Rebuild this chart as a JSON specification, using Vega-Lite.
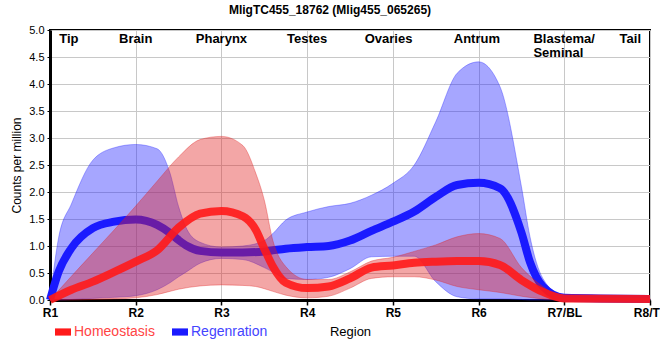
{
  "$schema": "https://vega.github.io/schema/vega-lite/v6.json",
  "width": 600,
  "height": 270,
  "autosize": "none",
  "padding": {"left": 50, "top": 30, "right": 10, "bottom": 60},
  "background": "white",
  "title": {"text": "MligTC455_18762 (Mlig455_065265)", "font": "Liberation Sans", "fontSize": 12, "fontWeight": "bold", "color": "black", "offset": 7, "dx": -20},
  "config": {
    "view": {"stroke": "black", "strokeWidth": 2},
    "font": "Liberation Sans",
    "axisX": {"title": "Region", "titleFont": "Liberation Sans", "titleFontSize": 13, "titleFontWeight": "normal", "titleColor": "black", "titlePadding": 7,
      "labelFont": "Liberation Sans", "labelFontSize": 12, "labelFontWeight": "bold", "labelColor": "black", "labelPadding": 2, "labelFlush": false, "labelOverlap": false,
      "domainColor": "black", "domainWidth": 3, "tickColor": "black", "tickSize": 5, "tickWidth": 1.5,
      "grid": true, "gridColor": "#c8c8c8", "gridWidth": 1},
    "axisY": {"titleFont": "Liberation Sans", "titleFontSize": 12, "titleFontWeight": "normal", "titleColor": "black", "titlePadding": 5,
      "labelFont": "Liberation Sans", "labelFontSize": 11, "labelColor": "black", "labelPadding": 3, "labelOverlap": false,
      "domainColor": "black", "domainWidth": 3, "tickColor": "black", "tickSize": 3, "tickWidth": 1,
      "grid": true, "gridColor": "#c8c8c8", "gridWidth": 1}
  },
  "datasets": {
    "series": [
      {"group": "Homeostasis", "r": 1, "mean": 0, "lo": 0, "hi": 0},
      {"group": "Homeostasis", "r": 1.25, "mean": 0.19, "lo": 0.0, "hi": 0.44},
      {"group": "Homeostasis", "r": 1.5, "mean": 0.34, "lo": 0.01, "hi": 0.87},
      {"group": "Homeostasis", "r": 1.75, "mean": 0.52, "lo": 0.02, "hi": 1.3},
      {"group": "Homeostasis", "r": 2, "mean": 0.71, "lo": 0.04, "hi": 1.74},
      {"group": "Homeostasis", "r": 2.25, "mean": 0.92, "lo": 0.1, "hi": 2.2},
      {"group": "Homeostasis", "r": 2.5, "mean": 1.34, "lo": 0.2, "hi": 2.65},
      {"group": "Homeostasis", "r": 2.75, "mean": 1.6, "lo": 0.26, "hi": 2.97},
      {"group": "Homeostasis", "r": 3, "mean": 1.65, "lo": 0.28, "hi": 3.03},
      {"group": "Homeostasis", "r": 3.25, "mean": 1.55, "lo": 0.27, "hi": 2.86},
      {"group": "Homeostasis", "r": 3.4, "mean": 1.3, "lo": 0.25, "hi": 2.35},
      {"group": "Homeostasis", "r": 3.5, "mean": 0.95, "lo": 0.21, "hi": 1.85},
      {"group": "Homeostasis", "r": 3.6, "mean": 0.62, "lo": 0.16, "hi": 1.1},
      {"group": "Homeostasis", "r": 3.75, "mean": 0.32, "lo": 0.09, "hi": 0.62},
      {"group": "Homeostasis", "r": 4, "mean": 0.22, "lo": 0.04, "hi": 0.38},
      {"group": "Homeostasis", "r": 4.25, "mean": 0.25, "lo": 0.07, "hi": 0.38},
      {"group": "Homeostasis", "r": 4.5, "mean": 0.4, "lo": 0.22, "hi": 0.52},
      {"group": "Homeostasis", "r": 4.75, "mean": 0.6, "lo": 0.4, "hi": 0.72},
      {"group": "Homeostasis", "r": 5, "mean": 0.64, "lo": 0.43, "hi": 0.79},
      {"group": "Homeostasis", "r": 5.25, "mean": 0.69, "lo": 0.43, "hi": 0.9},
      {"group": "Homeostasis", "r": 5.5, "mean": 0.71, "lo": 0.37, "hi": 1.02},
      {"group": "Homeostasis", "r": 5.75, "mean": 0.72, "lo": 0.25, "hi": 1.17},
      {"group": "Homeostasis", "r": 6, "mean": 0.72, "lo": 0.19, "hi": 1.23},
      {"group": "Homeostasis", "r": 6.25, "mean": 0.65, "lo": 0.14, "hi": 1.14},
      {"group": "Homeostasis", "r": 6.5, "mean": 0.37, "lo": 0.07, "hi": 0.6},
      {"group": "Homeostasis", "r": 6.75, "mean": 0.15, "lo": 0.02, "hi": 0.25},
      {"group": "Homeostasis", "r": 7, "mean": 0.03, "lo": 0.0, "hi": 0.04},
      {"group": "Homeostasis", "r": 8, "mean": 0.02, "lo": 0.0, "hi": 0.03},
      {"group": "Regenration", "r": 1, "mean": 0, "lo": 0, "hi": 0},
      {"group": "Regenration", "r": 1.1, "mean": 0.52, "lo": 0.0, "hi": 1.15},
      {"group": "Regenration", "r": 1.25, "mean": 0.96, "lo": 0.01, "hi": 1.78},
      {"group": "Regenration", "r": 1.5, "mean": 1.33, "lo": 0.03, "hi": 2.59},
      {"group": "Regenration", "r": 1.75, "mean": 1.45, "lo": 0.05, "hi": 2.82},
      {"group": "Regenration", "r": 2, "mean": 1.49, "lo": 0.08, "hi": 2.88},
      {"group": "Regenration", "r": 2.25, "mean": 1.39, "lo": 0.19, "hi": 2.8},
      {"group": "Regenration", "r": 2.4, "mean": 1.24, "lo": 0.32, "hi": 2.35},
      {"group": "Regenration", "r": 2.5, "mean": 1.11, "lo": 0.43, "hi": 1.73},
      {"group": "Regenration", "r": 2.6, "mean": 1.0, "lo": 0.53, "hi": 1.3},
      {"group": "Regenration", "r": 2.75, "mean": 0.91, "lo": 0.68, "hi": 1.07},
      {"group": "Regenration", "r": 3, "mean": 0.88, "lo": 0.77, "hi": 0.98},
      {"group": "Regenration", "r": 3.25, "mean": 0.88, "lo": 0.75, "hi": 1.0},
      {"group": "Regenration", "r": 3.5, "mean": 0.9, "lo": 0.6, "hi": 1.1},
      {"group": "Regenration", "r": 3.6, "mean": 0.92, "lo": 0.52, "hi": 1.23},
      {"group": "Regenration", "r": 3.75, "mean": 0.95, "lo": 0.4, "hi": 1.48},
      {"group": "Regenration", "r": 4, "mean": 0.98, "lo": 0.38, "hi": 1.63},
      {"group": "Regenration", "r": 4.25, "mean": 1.0, "lo": 0.42, "hi": 1.73},
      {"group": "Regenration", "r": 4.5, "mean": 1.1, "lo": 0.58, "hi": 1.79},
      {"group": "Regenration", "r": 4.75, "mean": 1.28, "lo": 0.8, "hi": 1.94},
      {"group": "Regenration", "r": 5, "mean": 1.45, "lo": 0.81, "hi": 2.16},
      {"group": "Regenration", "r": 5.25, "mean": 1.64, "lo": 0.81, "hi": 2.5},
      {"group": "Regenration", "r": 5.5, "mean": 1.91, "lo": 0.34, "hi": 3.3},
      {"group": "Regenration", "r": 5.75, "mean": 2.13, "lo": 0.06, "hi": 4.2},
      {"group": "Regenration", "r": 6, "mean": 2.17, "lo": 0.02, "hi": 4.41},
      {"group": "Regenration", "r": 6.25, "mean": 2.07, "lo": 0.02, "hi": 3.95},
      {"group": "Regenration", "r": 6.5, "mean": 1.25, "lo": 0.01, "hi": 2.1},
      {"group": "Regenration", "r": 6.6, "mean": 0.7, "lo": 0.0, "hi": 1.17},
      {"group": "Regenration", "r": 6.75, "mean": 0.25, "lo": 0.0, "hi": 0.4},
      {"group": "Regenration", "r": 7, "mean": 0.04, "lo": 0.0, "hi": 0.06},
      {"group": "Regenration", "r": 8, "mean": 0.02, "lo": 0.0, "hi": 0.02}
    ],
    "regions": [
      {"r": 1.22, "label": "Tip"},
      {"r": 2, "label": "Brain"},
      {"r": 3, "label": "Pharynx"},
      {"r": 4, "label": "Testes"},
      {"r": 4.95, "label": "Ovaries"},
      {"r": 5.98, "label": "Antrum"},
      {"r": 7.77, "label": "Tail"}
    ],
    "regions2": [
      {"r": 6.64, "label": "Blastema/\nSeminal"}
    ]
  },
  "encoding": {
    "x": {"type": "quantitative", "scale": {"domain": [1, 8], "nice": false, "zero": false},
      "axis": {"title": "Region", "values": [1, 2, 3, 4, 5, 6, 7, 8],
        "labelExpr": "['','R1','R2','R3','R4','R5','R6','R7/BL','R8/TL'][datum.value]"}}
  },
  "layer": [
    {
      "data": {"name": "series"},
      "transform": [{"filter": "datum.group === 'Regenration'"}],
      "mark": {"type": "area", "interpolate": "monotone", "fill": "#2020ff", "fillOpacity": 0.4, "stroke": "#2020ff", "strokeOpacity": 0.35, "strokeWidth": 1},
      "encoding": {
        "x": {"field": "r", "type": "quantitative"},
        "y": {"field": "lo", "type": "quantitative", "scale": {"domain": [0, 5], "nice": false},
          "axis": {"title": "Counts per million", "values": [0, 0.5, 1, 1.5, 2, 2.5, 3, 3.5, 4, 4.5, 5], "format": ".1f"}},
        "y2": {"field": "hi"}
      }
    },
    {
      "data": {"name": "series"},
      "transform": [{"filter": "datum.group === 'Regenration'"}],
      "mark": {"type": "line", "interpolate": "monotone", "strokeWidth": 8},
      "encoding": {
        "x": {"field": "r", "type": "quantitative"},
        "y": {"field": "mean", "type": "quantitative",
          "axis": {"title": "Counts per million", "values": [0, 0.5, 1, 1.5, 2, 2.5, 3, 3.5, 4, 4.5, 5], "format": ".1f"}},
        "color": {"field": "group", "type": "nominal",
          "scale": {"domain": ["Homeostasis", "Regenration"], "range": ["#ff1a1a", "#1a1aff"]},
          "legend": {"title": null, "orient": "none", "legendX": 5, "legendY": 294, "direction": "horizontal",
            "symbolType": "M-1,-0.45H1V0.45H-1Z", "symbolSize": 256, "symbolStrokeWidth": 0,
            "labelFont": "Liberation Sans", "labelFontSize": 14, "labelOffset": 3, "columnPadding": 17,
            "encode": {
              "symbols": {"update": {"fill": {"scale": "color", "field": "value"}, "fillOpacity": {"value": 1}, "stroke": {"value": "transparent"}}},
              "labels": {"update": {"fill": {"signal": "datum.value === 'Homeostasis' ? '#ff4444' : '#4444ff'"}}}
            }}}
      }
    },
    {
      "data": {"name": "series"},
      "transform": [{"filter": "datum.group === 'Homeostasis'"}],
      "mark": {"type": "area", "interpolate": "monotone", "fill": "#e02020", "fillOpacity": 0.4, "stroke": "#e02020", "strokeOpacity": 0.35, "strokeWidth": 1},
      "encoding": {
        "x": {"field": "r", "type": "quantitative"},
        "y": {"field": "lo", "type": "quantitative",
          "axis": {"title": "Counts per million", "values": [0, 0.5, 1, 1.5, 2, 2.5, 3, 3.5, 4, 4.5, 5], "format": ".1f"}},
        "y2": {"field": "hi"}
      }
    },
    {
      "data": {"name": "series"},
      "transform": [{"filter": "datum.group === 'Homeostasis'"}],
      "mark": {"type": "line", "interpolate": "monotone", "strokeWidth": 8, "opacity": 0.9},
      "encoding": {
        "x": {"field": "r", "type": "quantitative"},
        "y": {"field": "mean", "type": "quantitative",
          "axis": {"title": "Counts per million", "values": [0, 0.5, 1, 1.5, 2, 2.5, 3, 3.5, 4, 4.5, 5], "format": ".1f"}},
        "color": {"field": "group", "type": "nominal"}
      }
    },
    {
      "mark": {"type": "rule", "color": "black", "strokeWidth": 2.5, "strokeDash": [6, 5]},
      "encoding": {"x": {"datum": 7.5}}
    },
    {
      "data": {"name": "regions"},
      "mark": {"type": "text", "font": "Liberation Sans", "fontSize": 13, "fontWeight": "bold", "color": "black", "align": "center", "baseline": "top"},
      "encoding": {
        "x": {"field": "r", "type": "quantitative"},
        "y": {"datum": 4.95, "type": "quantitative",
          "axis": {"title": "Counts per million", "values": [0, 0.5, 1, 1.5, 2, 2.5, 3, 3.5, 4, 4.5, 5], "format": ".1f"}},
        "text": {"field": "label"}
      }
    },
    {
      "data": {"name": "regions2"},
      "mark": {"type": "text", "font": "Liberation Sans", "fontSize": 13, "fontWeight": "bold", "color": "black", "align": "left", "baseline": "top", "lineBreak": "\n", "lineHeight": 14},
      "encoding": {
        "x": {"field": "r", "type": "quantitative"},
        "y": {"datum": 4.95, "type": "quantitative",
          "axis": {"title": "Counts per million", "values": [0, 0.5, 1, 1.5, 2, 2.5, 3, 3.5, 4, 4.5, 5], "format": ".1f"}},
        "text": {"field": "label"}
      }
    }
  ]
}
